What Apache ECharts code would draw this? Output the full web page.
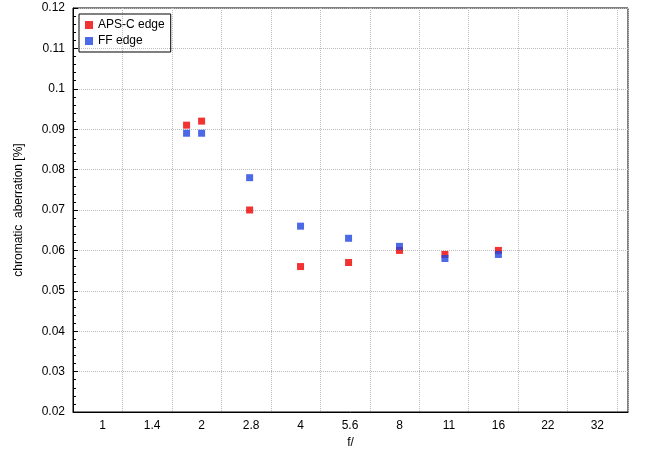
<!DOCTYPE html>
<html><head><meta charset="utf-8">
<script src="https://cdn.jsdelivr.net/npm/echarts@6/dist/echarts.min.js"></script>
<style>html,body{margin:0;padding:0;background:#fff}#c{width:650px;height:450px}</style>
</head><body><div id="c"></div>
<script>
const fStops = [1.8, 2, 2.8, 4, 5.6, 8, 11, 16];
const apsc = [0.091, 0.092, 0.070, 0.056, 0.057, 0.060, 0.059, 0.060];
const ff = [0.089, 0.089, 0.078, 0.066, 0.063, 0.061, 0.058, 0.059];
const tickLabels = ['1','1.4','2','2.8','4','5.6','8','11','16','22','32'];
const pos = f => 2*Math.log2(f);
const chart = echarts.init(document.getElementById('c'));
const font = 'Liberation Sans, Arial, sans-serif';
chart.setOption({
  animation:false,
  grid:{left:73,right:22,top:8,bottom:38,show:true,borderColor:'#000',borderWidth:1,outerBoundsMode:'none'},
  legend:{left:79,top:14,orient:'vertical',itemWidth:8,itemHeight:8,itemGap:4,
    borderColor:'#000',borderWidth:1,padding:[5,6,5,6],
    textStyle:{fontFamily:font,fontSize:12,color:'#000'},
    data:[{name:'APS-C edge',icon:'rect'},{name:'FF edge',icon:'rect'}]},
  xAxis:{type:'value',min:-0.6,max:10.62,interval:1,name:'f/',nameLocation:'middle',nameGap:24,
    nameTextStyle:{fontFamily:font,fontSize:12,color:'#000'},
    axisLine:{onZero:false,lineStyle:{color:'#000'}},axisTick:{show:false},
    axisLabel:{fontFamily:font,fontSize:12,color:'#000',
      formatter:v=>{const i=Math.round(v);return Math.abs(v-i)<1e-6&&i>=0&&i<tickLabels.length?tickLabels[i]:'';},
      customValues:[0,1,2,3,4,5,6,7,8,9,10]},
    splitLine:{show:true,lineStyle:{color:'#bbb',type:'dotted'}}},
  yAxis:{type:'value',min:0.02,max:0.12,interval:0.01,name:'chromatic  aberration [%]',nameLocation:'middle',nameGap:48,
    nameTextStyle:{fontFamily:font,fontSize:12,color:'#000'},
    axisLine:{show:true,onZero:false,lineStyle:{color:'#000'}},axisTick:{show:true,inside:true,length:5},
    minorTick:{show:true,splitNumber:5,length:3},
    axisLabel:{fontFamily:font,fontSize:12,color:'#000',formatter:v=>String(+v.toFixed(2))},
    splitLine:{show:true,lineStyle:{color:'#bbb',type:'dotted'}}},
  series:[
    {name:'APS-C edge',type:'scatter',symbol:'rect',symbolSize:7,itemStyle:{color:'#ee0000'},
     data:fStops.map((f,i)=>[pos(f),apsc[i]])},
    {name:'FF edge',type:'scatter',symbol:'rect',symbolSize:7,itemStyle:{color:'#1f45e0'},
     data:fStops.map((f,i)=>[pos(f),ff[i]])}
  ]
});
</script></body></html>
